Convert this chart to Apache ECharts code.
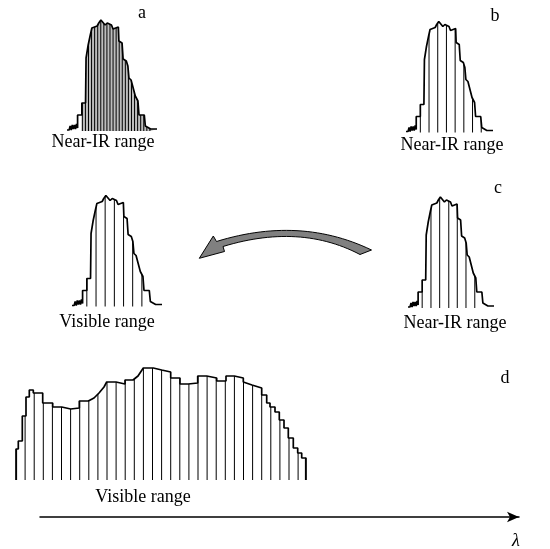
<!DOCTYPE html>
<html><head><meta charset="utf-8">
<script src="https://cdn.jsdelivr.net/npm/echarts@6/dist/echarts.min.js"></script>
<style>html,body{margin:0;padding:0;background:#fff}#c{width:550px;height:549px}</style>
</head><body><div id="c"></div>
<script>
// Near-IR spectrum outline (relative wavelength, intensity)
const nirX = [0,2,3,4,5,6,7,8,9,10,10,14,14,17.5,18,20,22,23.5,24,28.5,30,32,33.5,36,38,39.5,42,43.5,44,48.5,49,52,53,56,57.5,58.5,60.5,64.5,67,68,73,74,79,85];
const nirY = [1,1,5,1,6,2,6,2,7,3,16,16,28,28,73,86,96,103,105,105,108,111,110,106,108,110,106,102,104,104,90,88,72,70,65,53,51,35,30,16,16,5,2,2];
// Visible spectrum outline (relative wavelength, intensity)
const visX = [0,0,2.3,2.3,6.3,6.3,10,10,13.3,13.3,17.3,17.3,26.7,26.7,36.7,36.7,45.7,45.7,54.7,54.7,63.3,63.3,72.3,78,83,88,90.7,100,100,109,109,117,122,127.3,137.3,137.3,145.7,145.7,154.7,154.7,164,164,172.3,172.3,181.7,181.7,190.7,190.7,200.7,200.7,210,210,218.3,218.3,227.3,227.3,236,245.7,245.7,250.7,250.7,254,254,259,259,263.3,263.3,268,268,272.3,272.3,277.3,277.3,281.7,281.7,285.7,285.7,290,290];
const visY = [0,31,31,39,39,64,64,83,83,90,90,87,87,77,77,73,73,71,71,72,72,79,79,82,87,93,98,98,96,96,100,100,104,112,112,110,110,108,108,102,102,96,96,97,97,104,104,102,102,99,99,104,104,102,102,98,95,92,85,85,77,77,73,73,68,68,60,60,52,52,42,42,32,32,27,27,22,22,0];
// Sampling wavelengths
const samplesA = [14.5,17.4,20.3,23.2,26.1,29,31.9,34.8,37.7,40.6,43.5,46.4,49.3,52.2,55.1,58,60.9,63.8,66.7,69.6,72.5,75.4,78.3];
const samplesB = [14,22.5,31,39.5,48,56.5,65,73.5];
const samplesV = [14,22.7,31.3,40,48.7,57.3,66];
const samplesC = [14,22.7,31.3,40.3,48.7,57.3,66];
const samplesD = [0.6,9.1,18.2,27.3,36.4,45.5,54.6,63.7,72.8,81.9,91,100.1,109.2,118.3,127.4,136.5,145.6,154.7,163.8,172.9,182,191.1,200.2,209.3,218.4,227.5,236.6,245.7,254.8,263.9,273,282.1,289.4];
// Texts
const panelLetters = ['a','b','c','d'];
const rangeLabels = ['Near-IR range','Near-IR range','Visible range','Near-IR range','Visible range'];
const axisLabel = 'λ';

const zip = (xs, ys) => xs.map((x, i) => [x, ys[i]]);
const nir = zip(nirX, nirY);
const vis = zip(visX, visY);

const panels = [
  {left: 67, base: 131, width: 90, xmax: 85, outline: nir, samples: samplesA, shade: true},
  {left: 406, base: 132.5, width: 87, xmax: 85, outline: nir, samples: samplesB},
  {left: 72, base: 306.5, width: 90, xmax: 85, outline: nir, samples: samplesV},
  {left: 408, base: 308, width: 86, xmax: 85, outline: nir, samples: samplesC},
  {left: 16, base: 480, width: 290, xmax: 290, outline: vis, samples: samplesD}
];
const H = 120, BAR_TOP = 116;
const grid = [], xAxis = [], yAxis = [], series = [];
panels.forEach((p, i) => {
  grid.push({left: p.left, top: p.base - H, width: p.width, height: H});
  xAxis.push({type: 'value', gridIndex: i, min: 0, max: p.xmax, show: false});
  yAxis.push({type: 'value', gridIndex: i, min: 0, max: H, show: false});
  if (p.shade) {
    series.push({type: 'line', xAxisIndex: i, yAxisIndex: i, z: 1, symbol: 'none',
      lineStyle: {width: 0}, areaStyle: {color: '#bdbdbd', opacity: 1, origin: 'start'},
      data: p.outline.filter(d => d[0] >= 13)});
  }
  series.push({type: 'bar', xAxisIndex: i, yAxisIndex: i, barWidth: 1, z: 2,
    itemStyle: {color: '#000'}, data: p.samples.map(x => [x, BAR_TOP])});
  series.push({type: 'line', xAxisIndex: i, yAxisIndex: i, z: 3, symbol: 'none',
    lineStyle: {color: '#000', width: 1.7}, areaStyle: {color: '#fff', opacity: 1, origin: 'end'},
    data: p.outline});
});
// wavelength axis
grid.push({left: 40, top: 497, width: 479, height: 20});
xAxis.push({type: 'value', gridIndex: 5, min: 0, max: 1, axisLine: {show: true, onZero: false,
  lineStyle: {color: '#000', width: 1.5}, symbol: ['none', 'arrow'], symbolSize: [8, 12]},
  axisTick: {show: false}, axisLabel: {show: false}, splitLine: {show: false}});
yAxis.push({type: 'value', gridIndex: 5, show: false, min: 0, max: 1});

const font = '18px "Liberation Serif", "Times New Roman", serif';
const txt = (t, x, y, f) => ({type: 'text', x, y, z: 100,
  style: {text: t, font: f || font, fill: '#000', align: 'center', verticalAlign: 'middle'}});

// curved arrow outline (decoration) from quadratic curves
function quad(p0, c, p1, n) {
  const pts = [];
  for (let k = 0; k <= n; k++) {
    const t = k / n, u = 1 - t;
    pts.push([u*u*p0[0] + 2*u*t*c[0] + t*t*p1[0], u*u*p0[1] + 2*u*t*c[1] + t*t*p1[1]]);
  }
  return pts;
}
const arrowPts = [[199.3, 258.3], [213.3, 236]]
  .concat(quad([216.5, 241.5], [300, 215.6], [371.5, 250], 30))
  .concat(quad([360, 254.5], [300, 223], [223, 246.5], 30))
  .concat([[224.5, 251.5]]);

const graphic = [
  txt(panelLetters[0], 142, 13), txt(panelLetters[1], 495, 16), txt(panelLetters[2], 498, 188), txt(panelLetters[3], 505, 378),
  txt(rangeLabels[0], 103, 142), txt(rangeLabels[1], 452, 145), txt(rangeLabels[2], 107, 322), txt(rangeLabels[3], 455, 323), txt(rangeLabels[4], 143, 497),
  txt(axisLabel, 516, 541, 'italic 18px "Liberation Serif", "Times New Roman", serif'),
  {type: 'polygon', z: 100, shape: {points: arrowPts},
   style: {fill: '#808080', stroke: '#000', lineWidth: 1}}
];

const chart = echarts.init(document.getElementById('c'), null, {renderer: 'canvas'});
chart.setOption({animation: false, backgroundColor: '#fff', grid, xAxis, yAxis, series, graphic});
</script></body></html>
